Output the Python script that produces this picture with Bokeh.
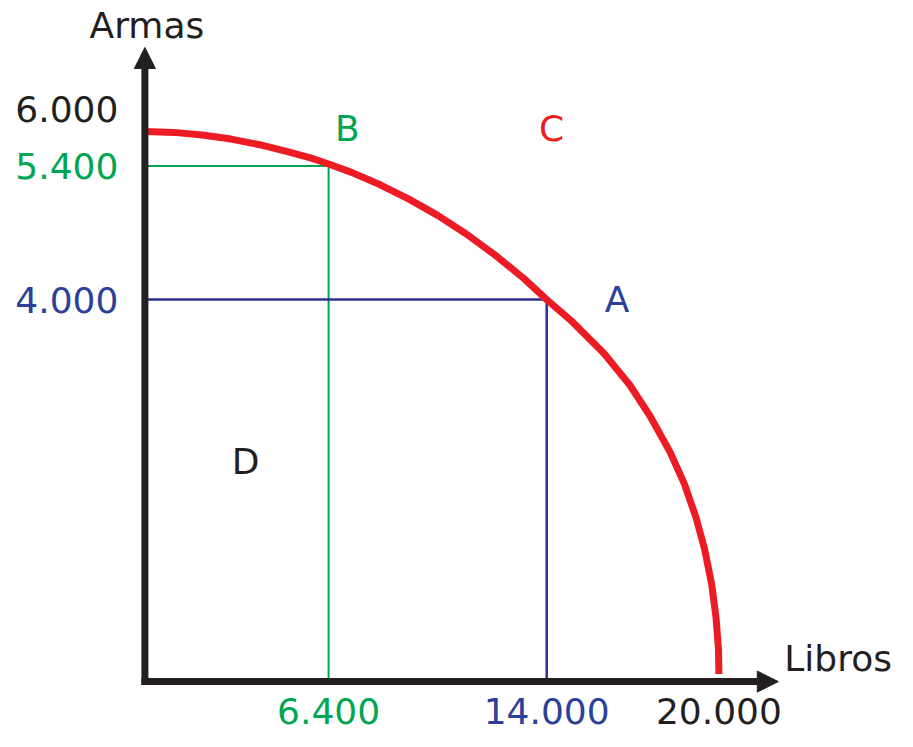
from bokeh.plotting import figure
from bokeh.models import Range1d, Arrow, NormalHead
from bokeh.core.properties import value
from bokeh.embed import file_html
from bokeh.resources import INLINE

# ---- data ----
curve_x = [0, 1000, 2000, 3000, 4000, 5000, 5800, 6400, 7200, 8200, 9200,
           10200, 11200, 12200, 13200, 14000, 14900, 16000, 16900, 17600,
           18300, 18800, 19200, 19500, 19750, 19900, 19985, 20000]
curve_y = [5760, 5751, 5724, 5681, 5622, 5547, 5481, 5420, 5332, 5202, 5052,
           4882, 4687, 4467, 4222, 4000, 3766, 3436, 3103, 2781,
           2403, 2068, 1720, 1390, 1015, 670, 338, 80]

point_a = (14000, 4000)
point_b = (6400, 5400)

y_ticks = [6000, 5400, 4000]
y_tick_labels = ["6.000", "5.400", "4.000"]
x_ticks = [6400, 14000, 20000]
x_tick_labels = ["6.400", "14.000", "20.000"]

letters = ["A", "B", "C", "D"]
letter_x = [16450, 7050, 14170, 3510]
letter_y = [4000, 5790, 5790, 2300]

X_AXIS_END = 22070
Y_AXIS_END = 6640

# ---- colours / styles ----
BLACK = "#231F20"
RED = "#ED1C24"
GREEN = "#00A651"
BLUE = "#2E3192"
BLUE_TXT = "#2B4199"
FONT = value("DejaVu Sans")
FS = "36px"
AXIS_W = 7

# ---- layout (pixels) ----
W, H = 897, 731
X0_PX, Y0_PX = 144.4, 681.1      # origin position on canvas (from top-left)
KX, KY = 0.0287, 0.0955          # pixels per data unit

x_range = Range1d(-X0_PX / KX, (W - X0_PX) / KX)
y_range = Range1d(-(H - Y0_PX) / KY, Y0_PX / KY)

p = figure(width=W, height=H, output_backend="svg", toolbar_location=None,
           x_range=x_range, y_range=y_range,
           x_axis_location=None, y_axis_location=None, min_border=0)
p.grid.visible = False
p.outline_line_color = None
p.background_fill_color = "white"
p.border_fill_color = "white"

# guide lines
p.line([0, point_b[0], point_b[0]], [point_b[1], point_b[1], 0],
       line_color=GREEN, line_width=2)
p.line([0, point_a[0], point_a[0]], [point_a[1], point_a[1], 0],
       line_color=BLUE, line_width=2.5)

# frontier
p.line(curve_x, curve_y, line_color=RED, line_width=7, line_join="round")

# axes with arrows (start pushed back by half the stroke so the corner is square)
hx = AXIS_W / 2 / KX
hy = AXIS_W / 2 / KY
p.add_layout(Arrow(x_start=-hx, y_start=0, x_end=X_AXIS_END, y_end=0,
                   line_color=BLACK, line_width=AXIS_W,
                   end=NormalHead(size=21, fill_color=BLACK,
                                  line_color=BLACK, line_width=1)))
p.add_layout(Arrow(x_start=0, y_start=-hy, x_end=0, y_end=Y_AXIS_END,
                   line_color=BLACK, line_width=AXIS_W,
                   end=NormalHead(size=21, fill_color=BLACK,
                                  line_color=BLACK, line_width=1)))

# y tick labels
y_cols = [BLACK, GREEN, BLUE_TXT]
p.text(x=[0] * 3, y=y_ticks, text=y_tick_labels, text_color=y_cols,
       text_font=FONT, text_font_size=FS, text_align="right",
       text_baseline="middle", x_offset=-26.5)
# x tick labels
x_cols = [GREEN, BLUE_TXT, BLACK]
p.text(x=x_ticks, y=[0] * 3, text=x_tick_labels, text_color=x_cols,
       text_font=FONT, text_font_size=FS, text_align="center",
       text_baseline="middle", y_offset=29)

# axis titles
p.text(x=[0], y=[Y_AXIS_END], text=["Armas"], text_color=BLACK,
       text_font=FONT, text_font_size=FS, text_align="center",
       text_baseline="middle", x_offset=2, y_offset=-21.5)
p.text(x=[X_AXIS_END], y=[0], text=["Libros"], text_color=BLACK,
       text_font=FONT, text_font_size=FS, text_align="left",
       text_baseline="middle", x_offset=6, y_offset=-23.5)

# point letters
p.text(x=letter_x, y=letter_y, text=letters,
       text_color=[BLUE_TXT, GREEN, RED, BLACK],
       text_font=FONT, text_font_size=FS, text_align="center",
       text_baseline="middle")

open("out.html", "w").write(file_html(p, INLINE))
